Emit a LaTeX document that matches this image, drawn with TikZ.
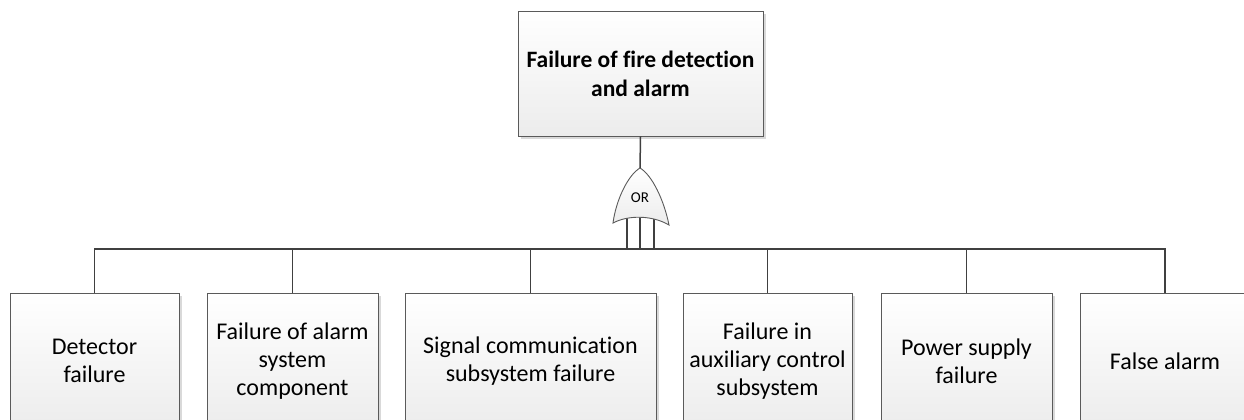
\documentclass[tikz,border=0pt]{standalone}
\usepackage{fontspec}
\setmainfont{Carlito}[Ligatures=NoCommon]
\usetikzlibrary{shadows}
\definecolor{edge}{HTML}{5A5A5A}
\definecolor{wire}{HTML}{404040}
\definecolor{shade}{HTML}{D9D9D9}
\definecolor{boxbot}{HTML}{ECECEC}
\tikzset{
  event/.style={draw=edge, line width=0.9pt, rectangle, align=center,
    top color=white, bottom color=boxbot,
    drop shadow={shadow xshift=3pt, shadow yshift=-3pt, fill=shade, opacity=1},
    inner sep=2pt},
  basic/.style={event, minimum height=136pt, font=\fontsize{24}{28}\selectfont},
  wirestyle/.style={draw=wire, line width=1.5pt},
}
\begin{document}
\begin{tikzpicture}[x=1pt, y=-1pt]
\useasboundingbox (0,0) rectangle (1244,420);
\clip (0,0) rectangle (1244,420);

% top event
\node[event, minimum width=245pt, minimum height=125pt,
      font=\bfseries\fontsize{23.5}{29}\selectfont] (top) at (640.5,73.5)
  {Failure of fire detection\\and alarm};

% basic events
\node[basic, minimum width=169pt] (b1) at (94.5,361) {Detector\\failure};
\node[basic, minimum width=171pt] (b2) at (292.5,361) {Failure of alarm\\system\\component};
\node[basic, minimum width=251pt] (b3) at (530.5,361) {Signal communication\\subsystem failure};
\node[basic, minimum width=169pt] (b4) at (767.5,361) {Failure in\\auxiliary control\\subsystem};
\node[basic, minimum width=171pt] (b5) at (966.5,361) {Power supply\\failure};
\node[basic, minimum width=170pt] (b6) at (1165,361) {False alarm};

% OR gate reference points
\coordinate (apex) at (640,168);
\coordinate (bus) at (640,249);
\coordinate (inL) at (627,216);
\coordinate (inM) at (640,216);
\coordinate (inR) at (654,216);

% gate inputs down to the bus
\draw[wirestyle] (inL) -- (inL |- bus);
\draw[wirestyle] (inM) -- (bus);
\draw[wirestyle] (inR) -- (inR |- bus);

% gate body
\draw[draw=edge, line width=0.9pt, top color=white, bottom color=boxbot]
  (apex) .. controls (628,175) and (616,200) .. (613,223)
  .. controls (628,215) and (652,215) .. (669,225)
  .. controls (664,200) and (652,175) .. (apex) -- cycle;
\node[font=\fontsize{15}{17}\selectfont] (orlbl) at (640,198) {OR};

% top event to gate
\draw[wirestyle] (top.south) -- (apex);

% bus and drops
\draw[wirestyle] (b1.north) |- (bus) -| (b6.north);
\foreach \b in {b2,b3,b4,b5}
  \draw[wirestyle] (\b.north) -- (\b.north |- bus);
\end{tikzpicture}
\end{document}
